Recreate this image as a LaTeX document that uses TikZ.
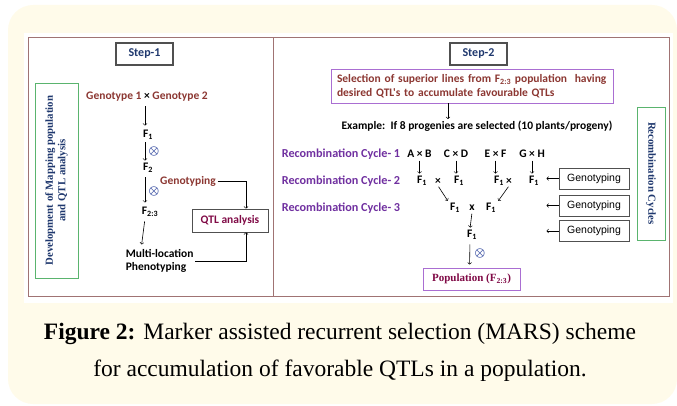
\documentclass[tikz,border=0pt]{standalone}
\usepackage{fontspec}
\setmainfont{Liberation Serif}
\newfontfamily\carlito{Carlito}
\newfontfamily\arialfont{Liberation Sans}
\usetikzlibrary{positioning}

\definecolor{cream}{RGB}{255,251,234}
\definecolor{framecol}{RGB}{160,115,115}
\definecolor{boxgray}{RGB}{80,80,80}
\definecolor{stepblue}{RGB}{31,56,110}
\definecolor{boxgreen}{RGB}{90,180,110}
\definecolor{boxpurple}{RGB}{170,110,210}
\definecolor{textbrown}{RGB}{140,55,50}
\definecolor{qtlred}{RGB}{128,10,70}
\definecolor{cyclepurple}{RGB}{112,48,160}
\definecolor{xblue}{RGB}{31,56,150}

\begin{document}
\begin{tikzpicture}[
            x = 1pt, y = -1pt, % pixel grid, y grows downwards
            > = to, % arrow head style
            semithick, % line style
            every node/.style = {font=\carlito\bfseries\fontsize{11.5}{13.5}\selectfont, inner sep=1.5pt},
            stepbox/.style = {draw=boxgray, line width=1.2pt, minimum width=57pt, minimum height=22pt,
                              text=stepblue, font=\carlito\bfseries\fontsize{12}{14}\selectfont},
            sidebox/.style = {draw=boxgreen, line width=0.8pt, text=stepblue, align=center,
                              font=\bfseries\fontsize{10.8}{12.5}\selectfont},
            genobox/.style = {draw=boxgray, line width=0.8pt, minimum width=70pt, minimum height=21pt,
                              font=\arialfont\fontsize{10.5}{12}\selectfont},
            purplebox/.style = {draw=boxpurple, line width=0.9pt},
            selfing/.style = {text=xblue, inner sep=0pt, font=\boldmath\fontsize{12}{12}\selectfont},
            cycle/.style = {text=cyclepurple, anchor=west, font=\carlito\bfseries\fontsize{12.2}{14}\selectfont},
            brownish/.style = {text=textbrown},
            flow/.style = {->, shorten <=3pt, shorten >=3pt},
            short/.style = {->, shorten <=1pt, shorten >=1pt},
            captext/.style = {anchor=base, font=\normalfont\fontsize{23.5}{27}\selectfont}
        ]

	\useasboundingbox (0,0) rectangle (677,406);
	\fill[cream, rounded corners=25pt] (8,5) rectangle (677,404);
	\fill[white] (24,33) rectangle (673,303);
	\draw[framecol, line width=1pt] (28,38) rectangle (669,296);
	\draw[framecol, line width=1pt] (273,38) -- (273,296);

	% Step-1
	\node[stepbox] (step1) at (144.5,54) {Step-1};
	\node[sidebox, rotate=90, minimum width=195pt, minimum height=43pt] (dev) at (56.5,180.5)
		{Development of Mapping population\\and QTL analysis};
	\node[brownish] (geno) at (147,97) {Genotype 1 {\color{black}×} Genotype 2};
	\node (f1) at (148,135) {F\textsubscript{1}};
	\node (f2) at (148,168) {F\textsubscript{2}};
	\node (f23) at (150,212) {F\textsubscript{2:3}};
	\node[align=left, anchor=west] (pheno) at (124,261) {Multi-location\\Phenotyping};
	\node[selfing] (s1) at (154,152) {$\otimes$};
	\node[selfing] (s2) at (154,192) {$\otimes$};
	\node[brownish] (gtyp) at (188,181) {Genotyping};
	\node[draw=boxgray, line width=0.8pt, minimum width=76pt, minimum height=23pt, text=qtlred] (qtl)
		at (230,220.5) {QTL analysis};

	\draw[flow] ([xshift=-2pt]geno.south) -- ([xshift=-3pt]f1.north);
	\draw[short] ([xshift=-3pt]f1.south) -- ([xshift=-3pt]f2.north);
	\draw[flow] ([xshift=-3pt]f2.south) -- ([xshift=-5pt]f23.north);
	\draw[flow] ([xshift=-5pt]f23.south) -- (pheno.north -| f2.south west);
	\draw[->] (gtyp.east) -| ([xshift=16pt]qtl.north);
	\draw[->] (pheno.east) -| ([xshift=16pt]qtl.south);

	% Step-2
	\node[stepbox] (step2) at (478.5,54) {Step-2};
	\node[purplebox, brownish, align=left, text width=270pt, inner xsep=6pt, minimum height=34pt] (sel) at (472,86)
		{Selection of superior lines from F\textsubscript{2:3} population\ \ having\\desired QTL's to accumulate favourable QTLs};
	\node (ex) at (477,126) {Example:\ \ If 8 progenies are selected (10 plants/progeny)};
	\draw[->] ([xshift=-24pt]sel.south) -- ([xshift=-29pt]ex.north);

	\node[cycle] (rc1) at (280,154) {Recombination Cycle- 1};
	\node[cycle] (rc2) at (280,181) {Recombination Cycle- 2};
	\node[cycle] (rc3) at (280,208) {Recombination Cycle- 3};

	\node (ab) at (419.5,154) {A × B};
	\node (cd) at (456,154) {C × D};
	\node (ef) at (495.5,154) {E × F};
	\node (gh) at (532,154) {G × H};

	\node (fa) at (422,181) {F\textsubscript{1}};
	\node (xa) at (438,181) {×};
	\node (fb) at (459,181) {F\textsubscript{1}};
	\node (fc) at (499,181) {F\textsubscript{1}};
	\node (xb) at (509,181) {×};
	\node (fd) at (534,181) {F\textsubscript{1}};

	\node (f3a) at (455,208) {F\textsubscript{1}};
	\node (x3) at (472,208) {x};
	\node (f3b) at (491,208) {F\textsubscript{1}};
	\node (f4) at (472,235) {F\textsubscript{1}};
	\node[selfing] (s3) at (480,253) {$\otimes$};
	\node[purplebox, text=qtlred, minimum width=97pt, minimum height=22pt,
		font=\bfseries\fontsize{11}{13}\selectfont] (pop) at (471.5,279) {Population (F\textsubscript{2:3})};

	\draw[short] (ab.south) -- (ab.south |- fa.north);
	\draw[short] (cd.south) -- (cd.south |- fb.north);
	\draw[short] (ef.south) -- (ef.south |- fc.north);
	\draw[short] (gh.south) -- (gh.south |- fd.north);
	\draw[short] (xa.south) -- (f3a.north west);
	\draw[short] (xb.south) -- (f3b.north east);
	\draw[short] (x3.south) -- ([xshift=-2pt]f4.north);
	\draw[flow] ([xshift=-2pt]f4.south) -- ([xshift=-2pt]pop.north);

	\node[genobox] (gt1) at (594,178.5) {Genotyping};
	\node[genobox] (gt2) at (594,205.5) {Genotyping};
	\node[genobox] (gt3) at (594,231) {Genotyping};
	\draw[->] (gt1.west) -- (gt1.west -| gh.east);
	\draw[->] (gt2.west) -- (gt2.west -| gh.east);
	\draw[->] (gt3.west) -- (gt3.west -| gh.east);

	\node[sidebox, rotate=-90, minimum width=133pt, minimum height=28pt] (rcyc) at (651,173.5)
		{Recombination Cycles};

	% caption
	\node[captext] (cap1) at (340,339)
		{\textbf{Figure 2:} Marker assisted recurrent selection (MARS) scheme};
	\node[captext] (cap2) at (340,376)
		{for accumulation of favorable QTLs in a population.};
\end{tikzpicture}
\end{document}
